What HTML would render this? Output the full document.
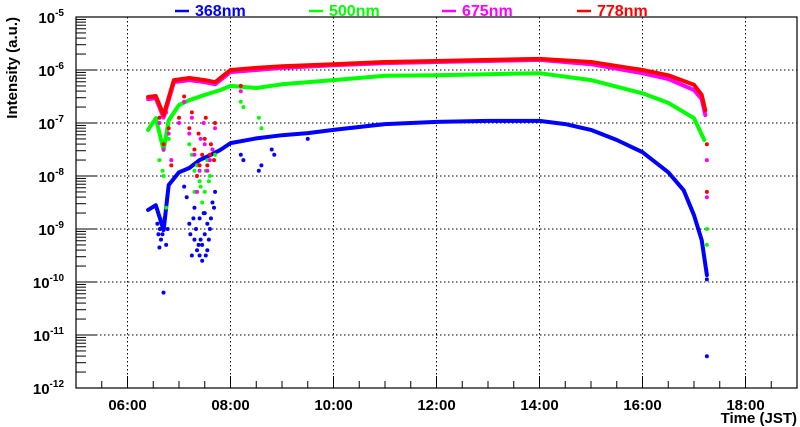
<!DOCTYPE html>
<html><head><meta charset="utf-8"><style>
body{margin:0;background:#fff;}
svg{display:block;font-family:"Liberation Sans",sans-serif;font-weight:bold;}
</style></head><body>
<svg id="c" width="800" height="427" viewBox="0 0 800 427"></svg>
<script>
const hourTicks=[6,8,10,12,14,16,18];
const hourLabels=["06:00","08:00","10:00","12:00","14:00","16:00","18:00"];
const decades=[-5,-6,-7,-8,-9,-10,-11,-12];
const seriesNames=["368nm","500nm","675nm","778nm"];
const seriesColors=["#0000ff","#00ff00","#ff00ff","#ff0000"];
const blueT=[6.4,6.55,6.7,6.8,7.0,7.2,7.4,7.6,7.8,8.0,8.5,9.0,9.5,10,11,12,13,14,14.5,15,15.5,16,16.5,16.8,17.0,17.15,17.25];
const blueV=[-8.64,-8.55,-9.02,-8.17,-7.93,-7.85,-7.70,-7.61,-7.51,-7.38,-7.29,-7.23,-7.19,-7.13,-7.02,-6.98,-6.96,-6.96,-7.02,-7.13,-7.32,-7.55,-7.93,-8.27,-8.74,-9.21,-9.87];
const greenT=[6.4,6.55,6.7,6.8,7.0,7.2,7.5,7.8,8.0,8.5,9,10,11,12,13,14,15,16,16.5,17.0,17.2];
const greenV=[-7.13,-6.91,-7.51,-6.95,-6.66,-6.57,-6.47,-6.38,-6.30,-6.34,-6.27,-6.19,-6.11,-6.10,-6.08,-6.06,-6.19,-6.44,-6.62,-6.91,-7.32];
const magT=[6.4,6.55,6.7,6.9,7.2,7.5,7.7,8.0,8.5,9,10,11,12,13,14,15,16,16.5,17.0,17.15,17.22];
const magV=[-6.55,-6.53,-6.90,-6.23,-6.19,-6.23,-6.27,-6.04,-6.0,-5.96,-5.91,-5.87,-5.85,-5.83,-5.81,-5.89,-6.06,-6.17,-6.38,-6.55,-6.85];
const redT=[6.4,6.55,6.7,6.9,7.2,7.5,7.7,8.0,8.5,9,10,11,12,13,14,15,16,16.5,17.0,17.15,17.22];
const redV=[-6.51,-6.49,-6.85,-6.19,-6.15,-6.19,-6.23,-6.0,-5.96,-5.93,-5.89,-5.85,-5.83,-5.81,-5.79,-5.85,-6.0,-6.10,-6.28,-6.47,-6.76];
// scattered outliers (hour, log10 value)
const blueDotT=[6.7,6.6,6.75,7.2,7.3,7.35,7.4,7.45,7.5,7.55,7.6,7.3,7.4,7.5,7.25,7.45,7.55,7.65,17.25,17.25,6.65,6.62,8.55,8.6,7.7,7.22,7.28,7.33,7.38,7.42,7.48,7.52,7.58,7.62,7.68,6.58,6.63,6.68,6.72,6.78,7.1,7.15,8.2,8.25,8.8,8.85,9.5];
const blueDotV=[-10.2,-9.1,-9.3,-8.9,-9.2,-9.4,-9.5,-9.3,-9.1,-9.4,-9.0,-8.6,-8.8,-8.7,-9.5,-9.6,-8.9,-8.5,-11.4,-9.95,-9.2,-9.35,-7.9,-7.8,-8.3,-9.1,-8.8,-9.0,-9.3,-9.2,-8.7,-9.5,-9.2,-8.8,-8.6,-8.9,-9.0,-9.1,-8.8,-9.0,-8.2,-8.4,-7.6,-7.7,-7.5,-7.6,-7.3];
const greenDotT=[6.7,6.75,6.85,7.2,7.3,7.4,7.5,7.55,7.6,7.7,7.3,7.45,7.65,17.25,17.25,8.55,8.6,7.25,7.35,7.42,7.52,7.58,6.62,6.68,6.8,8.2,8.25];
const greenDotV=[-8.0,-8.6,-7.7,-7.4,-7.9,-8.1,-8.3,-7.7,-8.0,-7.6,-8.3,-8.5,-7.5,-9.0,-9.3,-6.9,-7.1,-7.6,-7.8,-8.2,-7.9,-8.1,-7.7,-7.9,-7.3,-6.6,-6.7];
const magDotT=[6.7,6.8,6.85,7.0,7.2,7.3,7.4,7.5,7.6,7.7,7.35,7.55,17.25,17.25,7.25,7.42,7.48,7.65,6.62,6.75,7.1,8.2];
const magDotV=[-7.5,-7.2,-7.7,-7.0,-7.2,-7.6,-7.9,-7.4,-7.7,-7.1,-8.3,-7.9,-8.4,-7.7,-6.9,-7.3,-7.0,-7.5,-7.0,-6.8,-6.6,-6.4];
const redDotT=[6.7,6.8,6.85,7.0,7.2,7.3,7.4,7.5,7.6,7.7,7.35,7.55,7.45,17.25,17.25,7.25,7.38,7.52,7.62,7.68,6.62,6.75,7.1,8.2];
const redDotV=[-7.4,-7.1,-7.8,-6.9,-7.1,-7.5,-7.8,-7.3,-7.6,-7.0,-8.0,-7.8,-7.6,-8.3,-7.4,-6.8,-7.2,-6.9,-7.4,-7.7,-6.9,-6.7,-6.5,-6.3];

const L=76,R=797,T=17,B=388,H0=5,H1=19;
const xs=h=>L+(h-H0)/(H1-H0)*(R-L);
const ys=v=>T+(-5-v)/7*(B-T);
const svg=document.getElementById('c');
const NS='http://www.w3.org/2000/svg';
function mk(tag,attrs,parent){const e=document.createElementNS(NS,tag);for(const k in attrs)e.setAttribute(k,attrs[k]);(parent||svg).appendChild(e);return e;}

hourTicks.forEach(h=>{const g=mk('line',{x1:xs(h),x2:xs(h),y1:T,y2:B,stroke:'#000','stroke-width':1,'stroke-dasharray':'1.5,2.5'});

});
decades.slice(1,-1).forEach(d=>{const g=mk('line',{x1:L,x2:R,y1:ys(d),y2:ys(d),stroke:'#000','stroke-width':1,'stroke-dasharray':'1.5,2.5'});

});

const fr=mk('rect',{x:L,y:T,width:R-L,height:B-T,fill:'none',stroke:'#000','stroke-width':1.2});



for(let d=-12;d<-5;d++){
  for(let m=1;m<10;m++){
    const v=d+Math.log10(m);const y=ys(v);
    const len=m===1?21:10;
    mk('line',{x1:L,x2:L+len,y1:y,y2:y,stroke:'#000','stroke-width':1});
  }
}
decades.forEach(d=>{
  const t=mk('text',{x:L-12,y:ys(d)+6,'text-anchor':'end','font-size':15});
  
  
  t.innerHTML='10<tspan dy="-7" font-size="10">'+d+'</tspan>';
});
for(let h=5;h<=19;h+=0.5){const big=Math.abs(h-Math.round(h/2)*2)<0.01;
  mk('line',{x1:xs(h),x2:xs(h),y1:B,y2:B-(big?12:7),stroke:'#000','stroke-width':1});}
hourTicks.forEach((h,i)=>{const t=mk('text',{x:xs(h),y:410,'text-anchor':'middle','font-size':15});


t.textContent=hourLabels[i];});

const xt=mk('text',{x:797,y:423,'text-anchor':'end','font-size':15});


xt.textContent='Time (JST)';
const yt=mk('text',{x:0,y:0,'text-anchor':'end','font-size':15,transform:'translate(17,17) rotate(-90)'});


yt.textContent='Intensity (a.u.)';

const sets=[[blueT,blueV,blueDotT,blueDotV],[greenT,greenV,greenDotT,greenDotV],[magT,magV,magDotT,magDotV],[redT,redV,redDotT,redDotV]];
sets.forEach((s,i)=>{
  const g=mk('g',{});
  
  
  const pts=s[0].map((t,j)=>xs(t).toFixed(1)+','+ys(s[1][j]).toFixed(1)).join(' ');
  mk('polyline',{points:pts,fill:'none',stroke:seriesColors[i],'stroke-width':4,'stroke-linejoin':'round','stroke-linecap':'round'},g);
  s[2].forEach((t,j)=>{const c=mk('circle',{cx:xs(t),cy:ys(s[3][j]),r:2,fill:seriesColors[i]},g);
  
  });
});

const lx=[175,309,442,577];
seriesNames.forEach((n,i)=>{
  const g=mk('g',{});
  
  
  mk('line',{x1:lx[i],x2:lx[i]+14,y1:11,y2:11,stroke:seriesColors[i],'stroke-width':2.5},g);
  const t=mk('text',{x:lx[i]+20,y:16,'font-size':16,fill:seriesColors[i]},g);
  t.textContent=n;
});
</script>
</body></html>
